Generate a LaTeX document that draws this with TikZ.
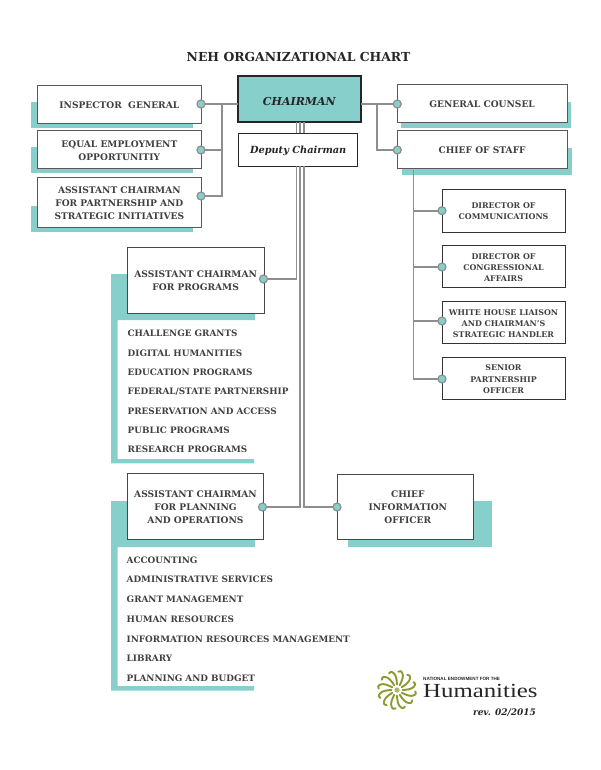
\documentclass[tikz,border=0pt]{standalone}
\usepackage{fontspec}
\setmainfont{DejaVu Serif}
\newfontfamily\logofont{Liberation Serif}
\newfontfamily\logosans{Liberation Sans}
\definecolor{teal1}{HTML}{86CFCA}
\definecolor{txt}{HTML}{404040}
\definecolor{conn}{HTML}{8E8E8E}
\definecolor{olive}{HTML}{8C9A2E}
\newcommand{\lowered}[2]{\raisebox{0pt}[\dimexpr\height+#1\relax][\depth]{#2}}
\newcommand{\bxnode}[6]{%
  \pgfmathsetmacro{\bxw}{#4-#2}\pgfmathsetmacro{\bxh}{#5-#3}%
  \node[bx,minimum width=\bxw pt,minimum height=\bxh pt] (#1) at ({(#2+#4)/2},{(#3+#5)/2}) {\lowered{3pt}{\begin{tabular}{@{}c@{}}#6\end{tabular}}};}
\tikzset{
  x=1pt,y=-1pt,
  bx/.style={draw=black!65,line width=1pt,fill=white,inner sep=0pt,outer sep=0pt,align=center,
    text=txt,font=\fontsize{9.1}{12.4}\selectfont\bfseries},
  small/.style={font=\fontsize{7.9}{11.2}\selectfont\bfseries},
  dot/.style={circle,fill=teal1,draw=conn,line width=1.2pt,minimum size=8pt,inner sep=0pt,outer sep=0pt},
  link/.style={draw=conn,line width=1.8pt},
  listitem/.style={anchor=west,inner sep=0pt,text=txt,font=\fontsize{8.85}{10}\selectfont\bfseries}
}
\begin{document}
\begin{tikzpicture}
\useasboundingbox (0,0) rectangle (600,770);
\node[inner sep=0pt,text=black!85,font=\fontsize{12.4}{14}\selectfont\bfseries] (title) at (298.5,57) {NEH ORGANIZATIONAL CHART};
% teal shadows
\fill[teal1] (31,102) rectangle (193,127.7);
\fill[teal1] (31,147) rectangle (193,173);
\fill[teal1] (31,206) rectangle (193,232);
\fill[teal1] (401,102) rectangle (571,128);
\fill[teal1] (402,148) rectangle (572,175);
\fill[teal1] (111,274) -- (255,274) -- (255,320) -- (117.7,320) -- (117.7,459) -- (254,459) -- (254,463.3) -- (111,463.3) -- cycle;
\fill[teal1] (111,501) -- (255,501) -- (255,547) -- (117.7,547) -- (117.7,686) -- (254,686) -- (254,690.7) -- (111,690.7) -- cycle;
\fill[teal1] (348,501) rectangle (492,547);
% boxes
\bxnode{ig}{37}{85.7}{201.7}{123.3}{INSPECTOR\ \ GENERAL}
\bxnode{eeo}{37}{131}{201.7}{168.7}{EQUAL EMPLOYMENT\\OPPORTUNITIY}
\bxnode{acpsi}{37}{177}{201.7}{227.7}{ASSISTANT CHAIRMAN\\[0.8pt]FOR PARTNERSHIP AND\\[0.8pt]STRATEGIC INITIATIVES}
\node[bx,fill=teal1,draw=black!85,line width=2pt,minimum width=122.7pt,minimum height=46.3pt,text=black!85,font=\fontsize{11}{12}\selectfont\bfseries\itshape] (chair) at (299.3,98.8) {\lowered{4.6pt}{CHAIRMAN}};
\node[bx,draw=black!85,minimum width=119pt,minimum height=33pt,text=black!85,font=\fontsize{9.8}{12}\selectfont\bfseries\itshape] (dep) at (298.2,149.8) {\lowered{2.4pt}{Deputy Chairman}};
\bxnode{gc}{397.3}{85}{567}{122.7}{GENERAL COUNSEL\hspace{6pt}}
\bxnode{cos}{397.3}{131}{567}{169}{CHIEF OF STAFF\hspace{11pt}}
\tikzset{bx/.append style={small,draw=black!80}}
\bxnode{comm}{442}{189.3}{565}{232}{DIRECTOR OF\\COMMUNICATIONS}
\bxnode{cong}{442}{245.3}{565}{287.7}{DIRECTOR OF\\CONGRESSIONAL\\AFFAIRS}
\bxnode{wh}{442}{301.3}{565}{343.7}{WHITE HOUSE LIAISON\\AND CHAIRMAN'S\\STRATEGIC HANDLER}
\bxnode{sen}{442}{357.3}{565}{399.3}{SENIOR\\PARTNERSHIP\\OFFICER}
\tikzset{bx/.append style={font=\fontsize{9.1}{13}\selectfont\bfseries,draw=black!72}}
\bxnode{acp}{127.3}{247}{264}{313}{ASSISTANT CHAIRMAN\\FOR PROGRAMS}
\bxnode{acpo}{127.3}{473.7}{263.7}{539.3}{ASSISTANT CHAIRMAN\\FOR PLANNING\\AND OPERATIONS}
\bxnode{cio}{337.3}{474}{473.3}{539.7}{\hspace{5pt}CHIEF\\\hspace{5pt}INFORMATION\\\hspace{5pt}OFFICER}
% lists
\foreach \n/\y/\t in {p1/333.5/CHALLENGE GRANTS,p2/353/DIGITAL HUMANITIES,p3/372.4/EDUCATION PROGRAMS,p4/391.5/FEDERAL\slash STATE PARTNERSHIP,p5/411/PRESERVATION AND ACCESS,p6/430/PUBLIC PROGRAMS,p7/449.5/RESEARCH PROGRAMS}
  {\node[listitem] (\n) at (127.5,\y) {\t};}
\foreach \n/\y/\t in {o1/560/ACCOUNTING,o2/579.7/ADMINISTRATIVE SERVICES,o3/599.4/GRANT MANAGEMENT,o4/619.2/HUMAN RESOURCES,o5/639/INFORMATION RESOURCES MANAGEMENT,o6/658.6/LIBRARY,o7/678.5/PLANNING AND BUDGET}
  {\node[listitem] (\n) at (126.5,\y) {\t};}
% dots
\node[dot] (dig) at (201,104) {};
\node[dot] (deeo) at (201,150) {};
\node[dot] (dacpsi) at (201,196) {};
\node[dot] (dgc) at (397.3,104) {};
\node[dot] (dcos) at (397.3,150) {};
\node[dot] (dcomm) at (442,210.7) {};
\node[dot] (dcong) at (442,267) {};
\node[dot] (dwh) at (442,321) {};
\node[dot] (dsen) at (442,379) {};
\node[dot] (dacp) at (263.5,279) {};
\node[dot] (dacpo) at (262.5,507) {};
\node[dot] (dcio) at (337,507) {};
% junction coordinates
\coordinate (jl) at (222,104);
\coordinate (jr) at (377,104);
\coordinate (jc) at (413.5,170);
% connectors
\draw[link] (dig) -- (dig -| chair.west);
\draw[link] (jl) |- (dacpsi);
\draw[link] (jl |- deeo) -- (deeo);
\draw[link] (dgc) -- (dgc -| chair.east);
\draw[link] (jr) |- (dcos);
\draw[link] (jc) |- (dsen);
\draw[link] (jc |- dcomm) -- (dcomm);
\draw[link] (jc |- dcong) -- (dcong);
\draw[link] (jc |- dwh) -- (dwh);
\coordinate (s1) at (296.5,0); \coordinate (s2) at (300.2,0); \coordinate (s3) at (304,0);
\foreach \s in {s1,s2,s3} {\draw[link] (\s |- chair.south) -- (\s |- dep.north);}
\draw[link] (s1 |- dep.south) |- (dacp);
\draw[link] (s2 |- dep.south) |- (dacpo);
\draw[link] (s3 |- dep.south) |- (dcio);
% logo
\begin{scope}[shift={(397,690)}]
  \foreach \a in {0,30,...,330}{
    \begin{scope}[rotate=\a]
      \draw[olive,line width=1.9pt,line cap=round] (0,-5.5) .. controls (-0.3,-11) and (-1,-15) .. (-3.5,-17) .. controls (-6,-19) and (-7,-18) .. (-8,-16.5);
    \end{scope}
  }
  \fill[olive!70!white] (0,0) circle (2.6);
\end{scope}
\node[inner sep=0pt,anchor=west,text=black!85,font=\logosans\bfseries\fontsize{4.6}{5}\selectfont] (nat) at (423,679) {NATIONAL ENDOWMENT FOR THE};
\node[inner sep=0pt,anchor=base west,text=black!85] (hum) at (423,697) {\scalebox{1.24}[1]{\logofont\fontsize{20}{20}\selectfont Humanities}};
\node[inner sep=0pt,text=black!85,font=\fontsize{9}{10}\selectfont\bfseries\itshape] (rev) at (504.5,713) {rev. 02/2015};
\end{tikzpicture}
\end{document}
